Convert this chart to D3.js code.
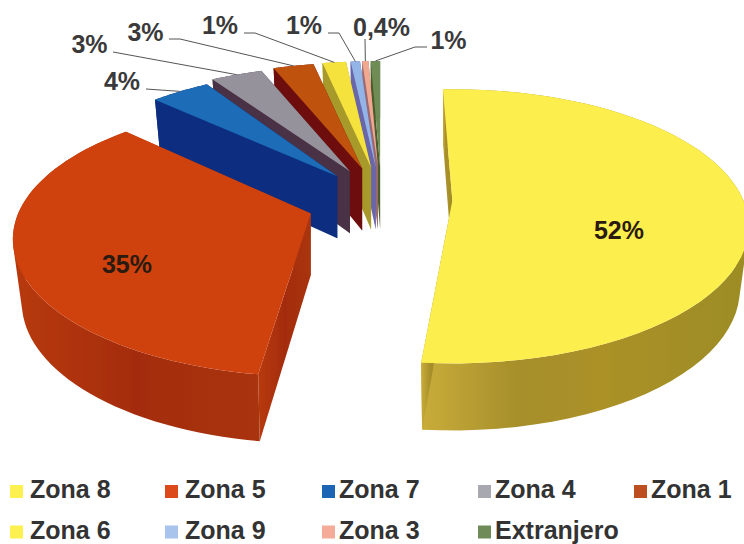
<!DOCTYPE html>
<html><head><meta charset="utf-8">
<script src="https://cdn.jsdelivr.net/npm/d3@7/dist/d3.min.js"></script>
<style>html,body{margin:0;padding:0;background:#fff}svg{display:block}text{font-family:"Liberation Sans",Arial,sans-serif;font-weight:700}</style>
</head><body><svg id="c" width="744" height="544"></svg>
<script>
// --- data ---
const categories = ["Zona 8","Zona 5","Zona 7","Zona 4","Zona 1","Zona 6","Zona 9","Zona 3","Extranjero"];
const labels = ["52%","35%","4%","3%","3%","1%","1%","0,4%","1%"];
const shares = [52,35,4,3.3,2.6,1.5,0.6,0.4,0.6]; // slice sizes as drawn
const topColors = ["#fcee4e","#d0430c","#1b6cb8","#96929c","#bf5210","#f6e23e","#92b4e6","#f0a890","#6e8c52"];
const wallColors = ["url(#wY)","url(#wR)","#0c2f80","#4a3044","#6e100a","#a89a2c","#6a66aa","#9a6a70","#4c5c2c"];
const legendColors = ["#fdf04f","#dc4a1c","#1c64b4","#a8a8b0","#bc4e20","#fdf04f","#a8c4ec","#f4ac98","#6f8c58"];
// --- layout ---
const W=744,H=544, cx=381.5, cy=207, explodeX=71, explodeY=40, rx=297, ry=126, persp=0.188, wallShrink=0.97;
const noAdjust={dx:0,dy:0,sx:1,sy:1,rot:0};
const sliceAdjust = [
  {dx:0,dy:-9,sx:.98,sy:1.05,rot:-2.2},
  {dx:-4,dy:-7,sx:.985,sy:1.05,rot:1.2},
  {dx:1,dy:0,sx:.95,sy:1,rot:0}
];
const leaderStart = [null,null,[146,89],[113,52],[169,39],[244,33],[328,33],[365,39],[427,47]];
const leaderElbow = [null,null,null,null,[180,39],[255,33],[339,33],null,[415,47]];
const labelPos = [[619,239],[127,273],[122,90],[89.5,53],[145.5,41],[220,34],[304,34],[381.5,36],[448.5,49]];
const legendX = [10,165,322,478,634], legendTextGap = 19, legendRows=[498,538.5];

const svg=d3.select("#c");
const defs=svg.append("defs");
function grad(id,stops){const g=defs.append("linearGradient").attr("id",id).attr("x1",0).attr("x2",1).attr("y1",0).attr("y2",0);
  stops.forEach(([o,c])=>g.append("stop").attr("offset",o).attr("stop-color",c));}
grad("wY",[[0,"#c9ac3a"],[.3,"#a68e2a"],[.55,"#ab9128"],[1,"#9c8c24"]]);
grad("wR",[[0,"#b83a10"],[.5,"#a42c10"],[1,"#a83410"]]);
defs.append("filter").attr("id","soft").append("feGaussianBlur").attr("stdDeviation",0.5);

const pie=d3.pie().sort(null).value(d=>d)(shares);
const adjOf=i=>sliceAdjust[i]||noAdjust;
const depth=v=>62+5*v;
function apex(i){const a=(pie[i].startAngle+pie[i].endAngle)/2, adj=adjOf(i);
  return [cx+explodeX*Math.sin(a)+adj.dx, cy-explodeY*Math.cos(a)+adj.dy];}
function proj(i,a0){const [ax,ay]=apex(i), adj=adjOf(i), a=a0+adj.rot*Math.PI/180;
  const u=Math.sin(a), v=-Math.cos(a), s=1/(1-persp*v);
  return [ax+u*rx*s*adj.sx, ay+v*ry*s*adj.sy, v];}
const line=d3.line().curve(d3.curveLinear);
const g=svg.append("g").attr("filter","url(#soft)");
// painter's order: far thin slices first, then the two big ones
const order=[8,7,6,5,4,3,2,1,0];
order.forEach(i=>{
  const p=pie[i], A=apex(i);
  const angs=d3.range(0,61).map(k=>p.startAngle+(p.endAngle-p.startAngle)*k/60);
  const arc=angs.map(a=>proj(i,a));
  const down=q=>[A[0]+(q[0]-A[0])*wallShrink,q[1]+depth(q[2])];
  const A2=[A[0],A[1]+depth(0)];
  // outer wall as a union of consistently wound quads, so the silhouette stays smooth
  const quads=d3.range(arc.length-1).map(k=>{
    let poly=[arc[k],arc[k+1],down(arc[k+1]),down(arc[k])].map(q=>[q[0],q[1]]);
    if(d3.polygonArea(poly)<0)poly=poly.reverse();
    return line(poly)+"Z";
  }).join("");
  g.append("path").attr("d",quads).attr("fill",wallColors[i]);
  [arc[0],arc[arc.length-1]].forEach(q=>{
    g.append("path").attr("d",line([[q[0],q[1]],A,A2,down(q)])+"Z").attr("fill",wallColors[i]);
  });
  g.append("path").attr("d",line([A].concat(arc.map(q=>[q[0],q[1]])))+"Z").attr("fill",topColors[i]);
});
// leaders
labels.forEach((t,i)=>{
  if(!leaderStart[i])return;
  const a=(pie[i].startAngle+pie[i].endAngle)/2, q=proj(i,a);
  const pts=[leaderStart[i]].concat(leaderElbow[i]?[leaderElbow[i]]:[]).concat([[q[0],q[1]]]);
  svg.append("path").attr("d",line(pts)).attr("fill","none").attr("stroke","#555").attr("stroke-width",1);
});
// value labels
svg.selectAll(".v").data(labels).join("text").attr("class","v")
 .attr("x",(d,i)=>labelPos[i][0]).attr("y",(d,i)=>labelPos[i][1]).attr("text-anchor","middle")
 .attr("font-size",25).attr("fill",(d,i)=>i<2?"#2a1a10":"#3a3a3a").text(d=>d);
// legend
categories.forEach((c,i)=>{
  const col=i%5,row=i<5?0:1,x=legendX[col],y=legendRows[row];
  svg.append("rect").attr("x",x).attr("y",y-13).attr("width",13).attr("height",13).attr("fill",legendColors[i]);
  svg.append("text").attr("x",x+legendTextGap+(col>1?-2:1)).attr("y",y).attr("font-size",25).attr("fill","#333").text(c);
});
</script></body></html>
